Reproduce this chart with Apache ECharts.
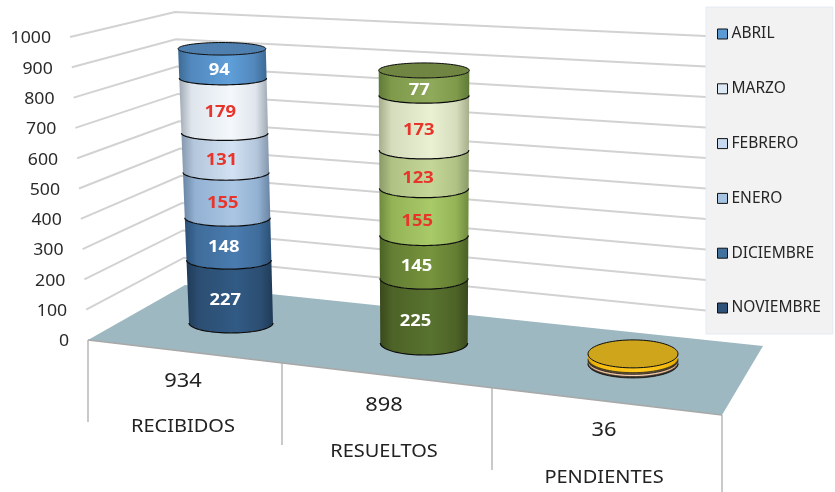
<!DOCTYPE html>
<html><head><meta charset="utf-8">
<style>html,body{margin:0;padding:0;background:#fff}#c{width:835px;height:492px}</style>
<script src="https://cdn.jsdelivr.net/npm/echarts@6/dist/echarts.min.js"></script>
</head><body><div id="c"></div>
<script>
// ---- data ----
const categories = ['RECIBIDOS', 'RESUELTOS', 'PENDIENTES'];
const months = ['NOVIEMBRE', 'DICIEMBRE', 'ENERO', 'FEBRERO', 'MARZO', 'ABRIL'];
const noviembre = [227, 225, 2];
const diciembre = [148, 145, 3];
const enero = [155, 155, 0];
const febrero = [131, 123, 8];
const marzo = [179, 173, 6];
const abril = [94, 77, 17];
const totals = [934, 898, 36];
const tickLabels = [0, 100, 200, 300, 400, 500, 600, 700, 800, 900, 1000];
const monthValues = [noviembre, diciembre, enero, febrero, marzo, abril];

// ---- styles and 3D projection parameters ----
const FONT = '"Noto Sans", sans-serif';
const GRID = {left: 130.5, width: 603, top: 37, height: 303};
const labelColors = ['#fff', '#fff', '#e8352b', '#e8352b', '#e8352b', '#fff'];
const legendColors = ['#2f5378', '#41719f', '#a6c3e2', '#c6d9f0', '#dde8f5', '#5b9bd5'];
// [edge, shoulder, centre] of each cylinder band, per category then month
const bandColors = [
  [['#1f3a57','#2c4e72','#315a84'],['#2a4f75','#3f6c9a','#4a7cb0'],['#6a84a3','#93b1d2','#aac6e4'],['#8597ad','#b4c6db','#d2e2f4'],['#a0a9b4','#dfe5ec','#f4f8fc'],['#3d6a94','#5288bd','#5f9fd9']],
  [['#39491d','#4d6327','#58722f'],['#4a6125','#647f33','#76933d'],['#6f8a3e','#94b356','#a9ca69'],['#8a9a68','#b0c284','#c4d698'],['#a5ad8a','#d5dcbc','#eaf1d3'],['#5f7a38','#7f9a4a','#90aa5c']],
  [['#2a2a2a','#3a3a3a','#444'],['#5a3a20','#7a5530','#8a6035'],['#888','#aaa','#bbb'],['#d8ab88','#f2c4a2','#fbd3b8'],['#4a3a20','#6a5530','#7a6035'],['#e0a800','#f6bd10','#ffc81e']]
];
const capColors = ['#4f7fae', '#6f8541', '#cfa51c'];
const depth = {
  dx: [0, -8, 0],            // shift of each category along the floor
  dy: [-17, 3, 24],          // how far its base sits from the front of the floor
  heightPx: [272, 282, 280], // pixels for the whole value axis at that depth
  lean: [-0.033, 0, 0],
  radius: [[42, 44], [43.7, 45.5], [45, 45]],
  ry: [[10, 6], [12, 7], [14, 13.5]],
  arcWidth: [1.2, 1.2, 0.7],
  labelDx: [[-5, -3], [-9, -4], [0, 0]]
};
const PERSPECTIVE = 0.085;
const floor = [[88, 340], [185, 285], [763, 346], [722, 415]];
const dividers = [[88, 340, 82], [282, 363, 82], [492, 388, 82], [722, 415, 80]];
const catLabelY = [[183, 381.5, 426.5], [384, 405.5, 451.5], [604, 430.5, 477.5]];

const sums = categories.map(() => 0);
const stacks = monthValues.map(vals => vals.map((v, i) => {
  const base = sums[i]; sums[i] += v; return [i, base, base + v, v];
}));

// real text, widened to match the reference's stretched lettering
function wideText(text, x, y, font, fill, align, sx) {
  return {type: 'text', x: x, y: y, scaleX: sx, z2: 10,
    style: {text: text, x: 0, y: 0, fill: fill, font: font, textAlign: align, textVerticalAlign: 'middle'}};
}
// pixel place of a value on the cylinder of a category, through the axes
function place(api, cat, value) {
  const c = api.coord([cat, value]);
  const t = (GRID.top + GRID.height - c[1]) / GRID.height;
  const h = depth.heightPx[cat] * t * (1 + PERSPECTIVE * t);
  return {
    x: c[0] + depth.dx[cat] + depth.lean[cat] * h,
    y: GRID.top + GRID.height + depth.dy[cat] - h,
    t: t,
    r: depth.radius[cat][0] + (depth.radius[cat][1] - depth.radius[cat][0]) * t,
    ry: depth.ry[cat][0] + (depth.ry[cat][1] - depth.ry[cat][0]) * t
  };
}
function arc(p, from, to, n) {
  const pts = [];
  for (let i = 0; i <= n; i++) {
    const a = from + (to - from) * i / n;
    pts.push([p.x + p.r * Math.cos(a), p.y + p.ry * Math.sin(a)]);
  }
  return pts;
}
function bandGradient(c) {
  return new echarts.graphic.LinearGradient(0, 0, 1, 0, [
    {offset: 0, color: c[0]}, {offset: .14, color: c[1]}, {offset: .58, color: c[2]},
    {offset: .86, color: c[1]}, {offset: 1, color: c[0]}]);
}
function cylinderSeries(mi) {
  const isTop = mi === months.length - 1;
  return {
    name: months[mi], type: 'custom', coordinateSystem: 'cartesian2d', z: 5,
    itemStyle: {color: legendColors[mi]},
    encode: {x: 0, y: 2},
    data: stacks[mi],
    renderItem(params, api) {
      const cat = api.value(0), v0 = api.value(1), v1 = api.value(2), val = api.value(3);
      const lo = place(api, cat, v0), hi = place(api, cat, v1);
      const kids = [];
      if (val > 0) {
        const low = arc(lo, 0, Math.PI, 40);
        kids.push({type: 'polygon', shape: {points: low.concat(arc(hi, Math.PI, 0, 40))},
          style: {fill: bandGradient(bandColors[cat][mi])}});
        kids.push({type: 'polyline', shape: {points: low},
          style: {stroke: '#0c0c0c', lineWidth: depth.arcWidth[cat], fill: null}});
        if (cat < 2) {
          const mid = (lo.y + hi.y) / 2, midRy = (lo.ry + hi.ry) / 2, midT = (lo.t + hi.t) / 2;
          const ldx = depth.labelDx[cat][0] + (depth.labelDx[cat][1] - depth.labelDx[cat][0]) * midT;
          kids.push(wideText(String(val), (lo.x + hi.x) / 2 + ldx, mid + midRy * 0.8 + 1.5,
            'bold 16px ' + FONT, labelColors[mi], 'center', 1.15));
        }
      }
      if (isTop) {
        kids.push({type: 'polygon', shape: {points: arc(hi, 0, Math.PI * 2, 80)},
          style: {fill: capColors[cat], stroke: '#0c0c0c', lineWidth: 1}});
      }
      return {type: 'group', children: kids};
    }
  };
}

const wallSeries = {
  type: 'custom', coordinateSystem: 'cartesian2d', z: 1, silent: true,
  data: tickLabels.map(v => [0, v]),
  encode: {x: 0, y: 1},
  renderItem(params, api) {
    const v = api.value(1);
    const yLeft = api.coord([0, v])[1];
    const t = v / 1000;
    const xLeft = 88 - 18 * t;
    const back = [185 - 10 * t, 285 - 273 * t];
    const right = [706, 341 - 305 * t];
    const kids = [wideText(String(v), xLeft - 19, yLeft + 1.5, '17px ' + FONT, '#2a2a2a', 'right', 1.04)];
    if (v > 0) {
      kids.push({type: 'polyline', shape: {points: [[xLeft, yLeft], back, right]},
        style: {stroke: '#d2d2d2', lineWidth: 2, fill: null}});
    }
    return {type: 'group', children: kids};
  }
};

const floorSeries = {
  type: 'custom', coordinateSystem: 'cartesian2d', z: 2, silent: true,
  data: categories.map((c, i) => [i, 0]),
  encode: {x: 0, y: 1},
  renderItem(params, api) {
    const i = api.value(0);
    const kids = [];
    if (i === 0) {
      kids.push({type: 'polygon', shape: {points: floor}, style: {fill: '#9db8c0'}});
      kids.push({type: 'line', shape: {x1: floor[0][0], y1: floor[0][1], x2: floor[3][0], y2: floor[3][1]},
        style: {stroke: '#a8a8a8', lineWidth: 1.5}});
      dividers.forEach(d => kids.push({type: 'line', shape: {x1: d[0], y1: d[1], x2: d[0], y2: d[1] + d[2]},
        style: {stroke: '#adadad', lineWidth: 1.3}}));
    }
    const p = catLabelY[i];
    kids.push(wideText(String(totals[i]), p[0], p[1], '19px ' + FONT, '#222', 'center', 1.15));
    kids.push(wideText(categories[i], p[0], p[2], '18px ' + FONT, '#222', 'center', 1.11));
    return {type: 'group', children: kids};
  }
};

const chart = echarts.init(document.getElementById('c'), null, {renderer: 'canvas'});
chart.setOption({
  animation: false,
  backgroundColor: '#fff',
  grid: Object.assign({}, GRID),
  xAxis: {type: 'category', data: categories, show: false},
  yAxis: {type: 'value', min: 0, max: 1000, interval: 100, show: false},
  legend: {
    orient: 'vertical', left: 706, top: 7, z: 20,
    padding: [19, 12, 18, 11],
    backgroundColor: '#f2f2f2', borderColor: '#e4ebf3', borderWidth: 1,
    icon: 'rect', itemWidth: 10, itemHeight: 10, itemGap: 38.8,
    itemStyle: {borderColor: '#111', borderWidth: 1},
    textStyle: {color: '#262626', fontSize: 15.5, fontFamily: FONT, padding: [0, 0, 0, -1]},
    data: months.slice().reverse(),
    selectedMode: false
  },
  series: [wallSeries, floorSeries].concat(months.map((m, i) => cylinderSeries(i)))
});
</script>
</body></html>
